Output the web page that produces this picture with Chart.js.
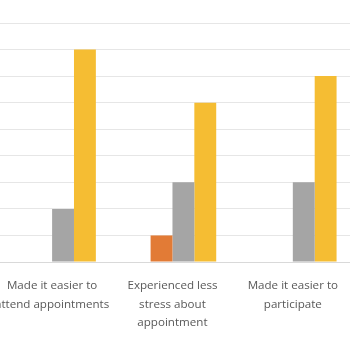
<!DOCTYPE html>
<html>
<head>
<meta charset="utf-8">
<script src="https://cdn.jsdelivr.net/npm/chart.js@4"></script>
<style>
  html, body { margin: 0; padding: 0; background: #fff; overflow: hidden; }
  #wrap { position: absolute; left: -11px; top: 0; width: 364px; height: 350px; }
</style>
</head>
<body>
<div id="wrap"><canvas id="chart"></canvas></div>
<script>
const categories = [
  ['Made it easier to', 'attend appointments'],
  ['Experienced less', 'stress about', 'appointment'],
  ['Made it easier to', 'participate']
];
const seriesNames = ['Series 1', 'Series 2', 'Series 3', 'Series 4'];
const series1 = [0, 0, 0];
const series2 = [0, 1, 0];
const series3 = [2, 3, 3];
const series4 = [8, 6, 7];
const colors = ['#4472C4', '#E27B36', '#A5A5A5', '#F5BD33'];

const values = [series1, series2, series3, series4];

new Chart(document.getElementById('chart'), {
  type: 'bar',
  data: {
    labels: categories,
    datasets: values.map((v, i) => ({
      label: seriesNames[i],
      data: v,
      backgroundColor: colors[i],
      barPercentage: 1,
      categoryPercentage: 0.727
    }))
  },
  options: {
    responsive: true,
    maintainAspectRatio: false,
    animation: false,
    layout: { padding: { top: 23, left: 0, right: 0, bottom: 0 } },
    plugins: { legend: { display: false }, tooltip: { enabled: false } },
    scales: {
      x: {
        grid: { display: false },
        border: { color: '#d9d9d9', width: 1 },
        ticks: {
          color: '#595959',
          font: { family: 'Open Sans', size: 11.6, lineHeight: 1.62 },
          padding: 6,
          maxRotation: 0,
          autoSkip: false
        },
        afterFit: (scale) => { scale.height = 88; }
      },
      y: {
        min: 0,
        max: 9,
        ticks: { display: false, stepSize: 1 },
        border: { display: false },
        grid: { color: '#e6e6e6', lineWidth: 1, drawTicks: false },
        afterFit: (scale) => { scale.width = 0; }
      }
    }
  }
});
</script>
</body>
</html>
